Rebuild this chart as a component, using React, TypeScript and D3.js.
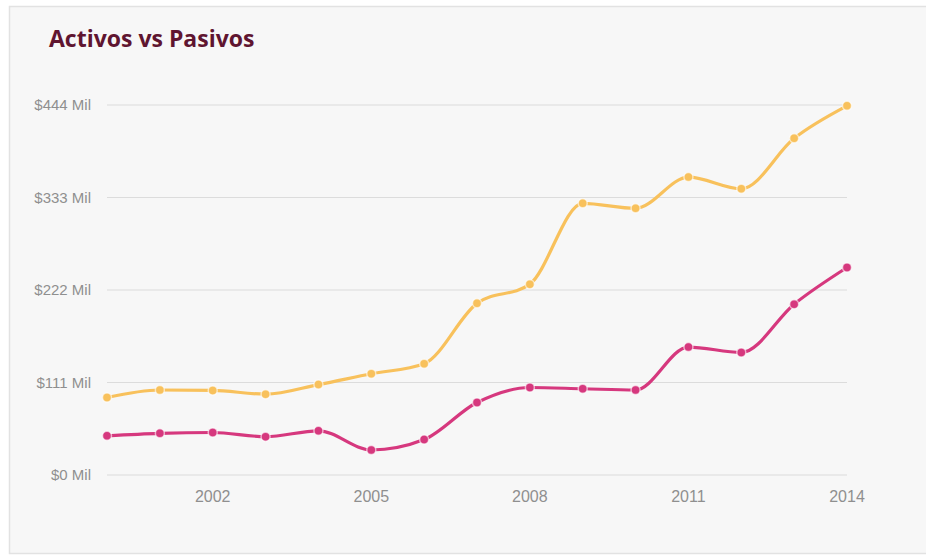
import React from "react";
import * as d3 from "d3";

const years = [2000, 2001, 2002, 2003, 2004, 2005, 2006, 2007, 2008, 2009, 2010, 2011, 2012, 2013, 2014];
const activos = [93, 102, 101.5, 97, 108.5, 121.5, 133.5, 206, 229, 326, 320, 357.5, 343.5, 404, 443];
const pasivos = [47, 50, 51, 46, 53, 30, 42.5, 87, 105, 103.5, 102, 153.5, 147, 205, 249];
const yTicks = [0, 111, 222, 333, 444];
const xTicks = [2002, 2005, 2008, 2011, 2014];
const title = "Activos vs Pasivos";

const W = 926;
const H = 556;

export default function App() {
  const x = d3.scaleLinear().domain([2000, 2014]).range([107, 847]);
  const y = d3.scaleLinear().domain([0, 444]).range([475, 105]);
  const line = d3
    .line<number>()
    .x((_, i) => x(years[i]))
    .y((d) => y(d))
    .curve(d3.curveMonotoneX);

  const series = [
    { name: "Activos", values: activos, color: "#f8c15c" },
    { name: "Pasivos", values: pasivos, color: "#d6387e" },
  ];

  return (
    <svg
      width={W}
      height={H}
      style={{ position: "absolute", left: 0, top: 0, display: "block" }}
    >
      <rect x={0} y={0} width={W} height={H} fill="#ffffff" />
      <rect x={9.5} y={6.5} width={W + 10} height={547} fill="#f7f7f7" stroke="#e2e2e2" strokeWidth={1.5} />
      <text
        x={49}
        y={47}
        fontFamily="'Open Sans', sans-serif"
        fontWeight={700}
        fontSize={23}
        fill="#5f1530"
      >
        {title}
      </text>
      {yTicks.map((t) => (
        <g key={t}>
          <line x1={107} x2={847} y1={y(t)} y2={y(t)} stroke="#dcdcdc" strokeWidth={1.2} />
          <text
            x={91}
            y={y(t)}
            dy="0.35em"
            textAnchor="end"
            fontFamily="Arial, 'Liberation Sans', sans-serif"
            fontSize={15}
            fill="#8f8f8f"
          >
            {`$${t} Mil`}
          </text>
        </g>
      ))}
      {xTicks.map((t) => (
        <text
          key={t}
          x={x(t)}
          y={502}
          textAnchor="middle"
          fontFamily="Arial, 'Liberation Sans', sans-serif"
          fontSize={16}
          fill="#8f8f8f"
        >
          {t}
        </text>
      ))}
      {series.map((s) => (
        <g key={s.name}>
          <path d={line(s.values) || ""} fill="none" stroke={s.color} strokeWidth={3.2} strokeLinejoin="round" />
          {s.values.map((v, i) => (
            <circle
              key={i}
              cx={x(years[i])}
              cy={y(v)}
              r={4.5}
              fill={s.color}
              stroke="#ffffff"
              strokeOpacity={0.6}
              strokeWidth={1.5}
            />
          ))}
        </g>
      ))}
    </svg>
  );
}
